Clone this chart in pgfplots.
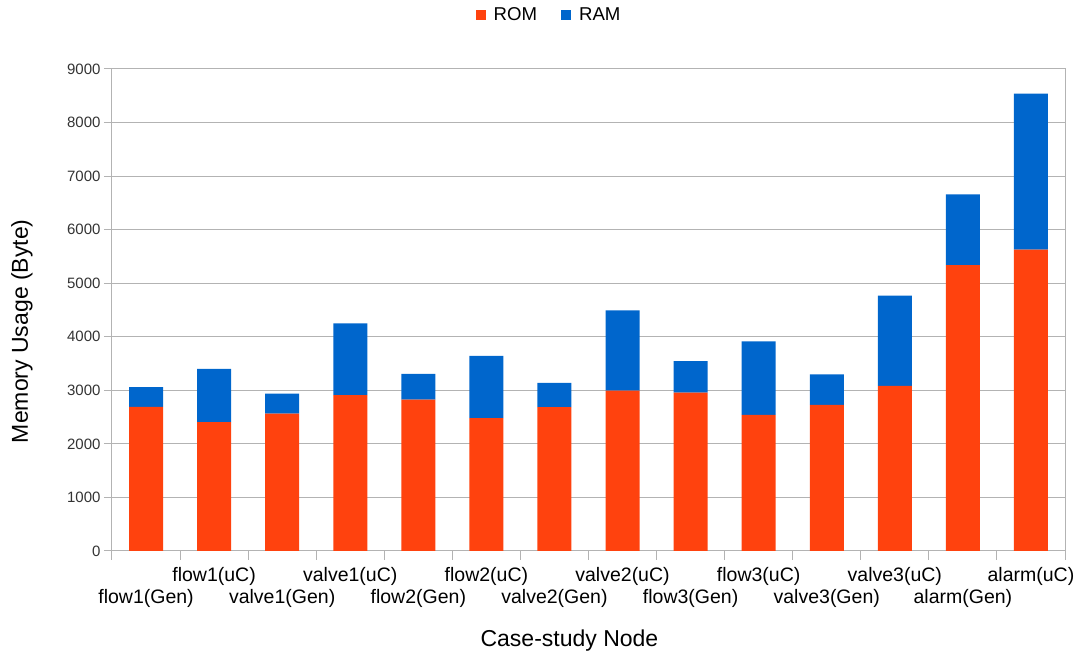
\documentclass[border=0pt]{standalone}
\usepackage{fontspec}
\setmainfont{Liberation Sans}
\usepackage{pgfplots}
\pgfplotsset{compat=1.18}
\definecolor{romc}{HTML}{FF420E}
\definecolor{ramc}{HTML}{0066CC}
\definecolor{gridc}{RGB}{179,179,179}
\begin{document}
\begin{tikzpicture}
\begin{axis}[
  scale only axis,
  width=953pt, height=482pt,
  ybar stacked,
  bar width=34pt,
  xmin=-0.5, xmax=13.5,
  ymin=0, ymax=9000,
  ytick={0,1000,...,9000},
  xtick pos=lower, ytick pos=left,
  /pgf/number format/assume math mode=true,
  /pgf/number format/1000 sep={},
  yticklabel style={font=\fontsize{15}{15}\selectfont, text=black!80},
  ymajorgrids,
  grid style={gridc, line width=1pt},
  axis line style={gridc, line width=1pt},
  tick style={gridc, line width=1pt},
  tick align=outside,
  major tick length=8pt,
  minor tick length=9pt,
  xtick={0,2,...,12},
  xticklabels={flow1(Gen),valve1(Gen),flow2(Gen),valve2(Gen),flow3(Gen),valve3(Gen),alarm(Gen)},
  xticklabel style={font=\fontsize{19.5}{19.5}\selectfont, anchor=base, yshift=-45pt},
  extra x ticks={1,3,...,13},
  extra x tick labels={flow1(uC),valve1(uC),flow2(uC),valve2(uC),flow3(uC),valve3(uC),alarm(uC)},
  extra x tick style={major tick length=0pt, xticklabel style={yshift=14pt}},
  major x tick style={draw=none},
  minor xtick={-0.5,0.5,...,13.5},
  xlabel={Case-study Node},
  ylabel={Memory Usage (Byte)},
  xlabel style={font=\fontsize{23}{23}\selectfont, at={(axis description cs:0.48,0)}, anchor=center, yshift=-90pt},
  ylabel style={font=\fontsize{23}{23}\selectfont, at={(axis description cs:-0.0944,0.456)}, anchor=center},
  legend columns=2,
  legend style={draw=none, fill=none, at={(axis description cs:0.4586,1.112)}, anchor=center,
    font=\fontsize{18.6}{18.6}\selectfont,
    /tikz/every odd column/.append style={column sep=6pt},
    /tikz/every even column/.append style={column sep=22pt}},
  legend cell align=left,
  legend image code/.code={\fill[#1, draw=none] (0pt,-5pt) rectangle (10pt,5pt);},
]
\addplot[fill=romc, draw=none] coordinates {(0,2690) (1,2405) (2,2566) (3,2910) (4,2828) (5,2480) (6,2685) (7,2996) (8,2959) (9,2542) (10,2729) (11,3084) (12,5340) (13,5626)};
\addplot[fill=ramc, draw=none] coordinates {(0,370) (1,997) (2,374) (3,1339) (4,480) (5,1165) (6,455) (7,1496) (8,587) (9,1370) (10,567) (11,1682) (12,1320) (13,2916)};
\legend{ROM,RAM}
\coordinate (sw) at (rel axis cs:0,0);
\coordinate (ne) at (rel axis cs:1,1);
\end{axis}
\pgfresetboundingbox
\path[use as bounding box] ([shift={(-112pt,-106pt)}]sw) rectangle ([shift={(11pt,69pt)}]ne);
\end{tikzpicture}
\end{document}
